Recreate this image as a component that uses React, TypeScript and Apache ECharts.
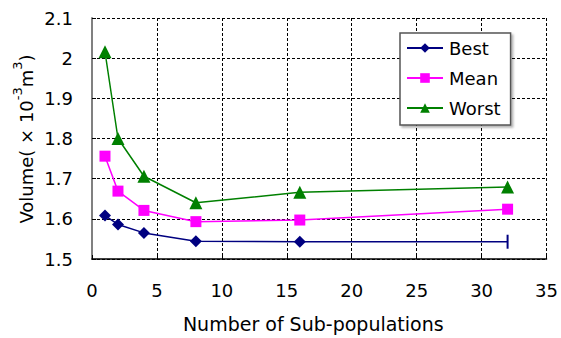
import React, { useEffect, useRef } from "react";
import * as echarts from "echarts";

const xValues = [1, 2, 4, 8, 16, 32];
const bestValues = [1.608, 1.586, 1.565, 1.544, 1.543, 1.543];
const meanValues = [1.756, 1.669, 1.621, 1.593, 1.597, 1.624];
const worstValues = [2.016, 1.800, 1.706, 1.640, 1.666, 1.679];
const seriesNames = ["Best", "Mean", "Worst"];

const FONT = "DejaVu Sans, Liberation Sans, Arial, sans-serif";

export default function App() {
  const ref = useRef<HTMLDivElement>(null);
  useEffect(() => {
    if (!ref.current) return;
    const chart = echarts.init(ref.current, undefined, { renderer: "svg" });
    const pairs = (vals: number[]) => xValues.map((x, i) => [x, vals[i]]);
    const bestData: any[] = pairs(bestValues).map((p, i) =>
      i === xValues.length - 1
        ? { value: p, symbol: "rect", symbolSize: [2, 14] }
        : p
    );
    chart.setOption({
      animation: false,
      grid: { left: 92, top: 18, right: 13, bottom: 77 },
      graphic: [
        {
          type: "text",
          x: 23,
          y: 139,
          rotation: Math.PI / 2,
          style: {
            text: "{b|Volume( × 10}{s|-3}{b|m}{s|3}{b|)}",
            align: "center",
            verticalAlign: "middle",
            fill: "#000",
            rich: {
              b: { fontFamily: FONT, fontSize: 18, fill: "#000", verticalAlign: "bottom", lineHeight: 24 },
              s: { fontFamily: FONT, fontSize: 13, fill: "#000", verticalAlign: "top", lineHeight: 24 },
            },
          },
        },
      ],
      legend: {
        orient: "vertical",
        left: 400,
        top: 33,
        width: 108,
        padding: [6, 10, 8, 6],
        itemGap: 12,
        itemWidth: 36,
        itemHeight: 12,
        backgroundColor: "#fff",
        borderColor: "#555",
        borderWidth: 1.5,
        shadowColor: "rgba(0,0,0,0.3)",
        shadowOffsetX: 2,
        shadowOffsetY: 2,
        shadowBlur: 2,
        data: seriesNames,
        textStyle: { fontFamily: FONT, fontSize: 18, color: "#000", padding: [0, 0, 0, 1] },
      },
      xAxis: {
        type: "value",
        min: 0,
        max: 35,
        interval: 5,
        name: "Number of Sub-populations",
        nameLocation: "middle",
        nameGap: 55,
        nameTextStyle: { fontFamily: FONT, fontSize: 19, color: "#000", padding: [0, 12, 0, 0] },
        axisLine: { lineStyle: { color: "#000", width: 1.5 } },
        axisTick: { inside: true, length: 4, lineStyle: { color: "#000" } },
        axisLabel: { fontFamily: FONT, fontSize: 18, color: "#000", margin: 22 },
        splitLine: { show: true, lineStyle: { color: "#000", type: [3, 2], width: 1 } },
      },
      yAxis: {
        type: "value",
        min: 1.5,
        max: 2.1,
        interval: 0.1,
        axisLine: { show: true, lineStyle: { color: "#808080", width: 2 } },
        axisTick: { show: true, inside: true, length: 4, lineStyle: { color: "#000" } },
        axisLabel: { fontFamily: FONT, fontSize: 18, color: "#000", margin: 19 },
        splitLine: { show: true, lineStyle: { color: "#000", type: [3, 2], width: 1 } },
      },
      series: [
        {
          name: "Best",
          type: "line",
          data: bestData,
          symbol: "diamond",
          symbolSize: 12,
          color: "#000080",
          lineStyle: { width: 1.5, color: "#000080" },
          itemStyle: { color: "#000080" },
        },
        {
          name: "Mean",
          type: "line",
          data: pairs(meanValues),
          symbol: "rect",
          symbolSize: 11,
          color: "#FF00FF",
          lineStyle: { width: 1.5, color: "#FF00FF" },
          itemStyle: { color: "#FF00FF" },
        },
        {
          name: "Worst",
          type: "line",
          data: pairs(worstValues),
          symbol: "triangle",
          symbolSize: 13,
          color: "#008000",
          lineStyle: { width: 1.5, color: "#008000" },
          itemStyle: { color: "#008000" },
        },
      ],
    });
    return () => chart.dispose();
  }, []);
  return <div ref={ref} style={{ width: 561, height: 338, position: "absolute", left: 0, top: 0 }} />;
}
